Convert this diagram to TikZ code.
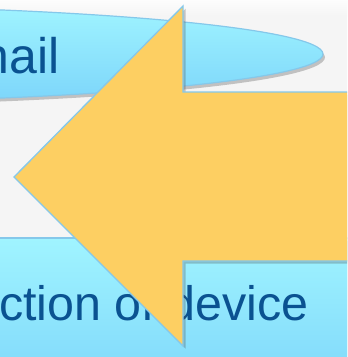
\documentclass[tikz,border=0pt]{standalone}
\usepackage{fontspec}
\setmainfont{Liberation Sans}
\usetikzlibrary{shadows}
\definecolor{bgc}{HTML}{F5F5F5}
\definecolor{cyantop}{HTML}{A0F4FF}
\definecolor{cyanbot}{HTML}{7CD5FA}
\definecolor{edgeblue}{HTML}{85C8EA}
\definecolor{txtblue}{HTML}{0A5291}
\definecolor{arrowfill}{HTML}{FDCF62}
\tikzset{
  bubble/.style={top color=cyantop, bottom color=cyanbot, draw=edgeblue, line width=0.9pt,
    drop shadow={shadow xshift=1.5pt, shadow yshift=-2.5pt, opacity=0.3, fill=black!70}},
  label/.style={text=txtblue, inner sep=0pt},
  bigarrow/.style={fill=arrowfill, draw=edgeblue, line width=1pt, line join=miter,
    drop shadow={shadow xshift=2pt, shadow yshift=-2pt, opacity=0.3, fill=black!70}}
}
\begin{document}
\begin{tikzpicture}[x=0.75pt,y=-0.75pt]
\useasboundingbox (0,0) rectangle (347,357);
\begin{scope}
\clip (0,0) rectangle (347,357);
% background
\fill[bgc] (-5,-5) rectangle (352,362);
\shade[top color=white, bottom color=bgc] (-5,-5) rectangle (352,16);
% top ellipse
\path[bubble] (-250,54) ellipse [x radius=429.75pt, y radius=36.75pt];
\node[label, anchor=base east, font=\fontsize{37.5pt}{40pt}\selectfont] (t1) at (60,73) {nail};
% bottom box
\path[bubble] (-20,238) rectangle (380,400);
\node[label, anchor=base east, font=\fontsize{36.3pt}{39pt}\selectfont] (t2) at (309,320) {ction of device};
% arrow
\path[bigarrow] (14,177) -- (183,6) -- (183,92) -- (380,92) -- (380,261) -- (183,261) -- (183,346) -- cycle;
\end{scope}
\end{tikzpicture}
\end{document}
